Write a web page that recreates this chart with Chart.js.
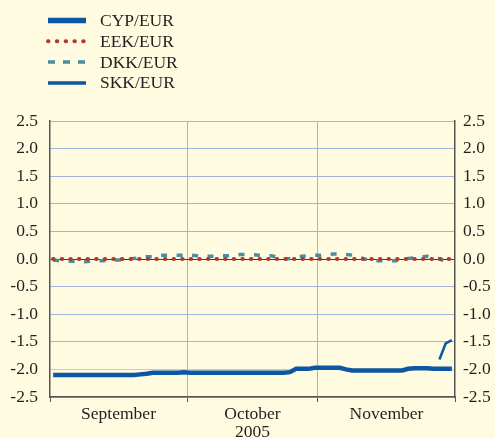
<!DOCTYPE html>
<html>
<head>
<meta charset="utf-8">
<title>ERM II exchange rates</title>
<script src="https://cdn.jsdelivr.net/npm/chart.js@4.4.1/dist/chart.umd.min.js"></script>
<style>
  body { margin: 0; background: #fefbe0; }
  #wrap { position: relative; width: 495px; height: 438px; }
</style>
</head>
<body>
<div id="wrap"><canvas id="chart_fx"></canvas></div>
<script>
  // business days, Sep - Nov 2005
  var sepDays = [1, 2, 5, 6, 7, 8, 9, 12, 13, 14, 15, 16, 19, 20, 21, 22, 23, 26, 27, 28, 29, 30];
  var octDays = [3, 4, 5, 6, 7, 10, 11, 12, 13, 14, 17, 18, 19, 20, 21, 24, 25, 26, 27, 28, 31];
  var novDays = [1, 2, 3, 4, 7, 8, 9, 10, 11, 14, 15, 16, 17, 18, 21, 22, 23, 24, 25, 28, 29, 30];
  var monthNames = ["September", "October", "November"];
  var yearLabel = "2005";

  // deviation from central rate (%), one row per month
  var cypEur = [-2.10, -2.10, -2.10, -2.10, -2.10, -2.10, -2.10, -2.10, -2.10, -2.10, -2.10, -2.10, -2.10, -2.10, -2.09, -2.08, -2.06, -2.06, -2.06, -2.06, -2.06, -2.05,
                -2.06, -2.06, -2.06, -2.06, -2.06, -2.06, -2.06, -2.06, -2.06, -2.06, -2.06, -2.06, -2.06, -2.06, -2.06, -2.06, -2.05, -1.99, -1.99, -1.99, -1.97,
                -1.97, -1.97, -1.97, -1.97, -2.00, -2.02, -2.02, -2.02, -2.02, -2.02, -2.02, -2.02, -2.02, -2.02, -1.99, -1.98, -1.98, -1.98, -1.99, -1.99, -1.99, -1.99];
  var eekEur = [0, 0, 0, 0, 0, 0, 0, 0, 0, 0, 0, 0, 0, 0, 0, 0, 0, 0, 0, 0, 0, 0,
                0, 0, 0, 0, 0, 0, 0, 0, 0, 0, 0, 0, 0, 0, 0, 0, 0, 0, 0, 0, 0,
                0, 0, 0, 0, 0, 0, 0, 0, 0, 0, 0, 0, 0, 0, 0, 0, 0, 0, 0, 0, 0, 0];
  var dkkEur = [-0.02, -0.03, -0.03, -0.04, -0.04, -0.05, -0.04, -0.03, -0.03, -0.02, -0.02, -0.02, 0.00, 0.01, 0.02, 0.04, 0.04, 0.06, 0.07, 0.07, 0.07, 0.07,
                0.07, 0.06, 0.05, 0.05, 0.05, 0.06, 0.06, 0.07, 0.08, 0.08, 0.08, 0.07, 0.06, 0.06, 0.03, 0.00, 0.01, 0.04, 0.05, 0.06, 0.07,
                0.07, 0.08, 0.09, 0.09, 0.08, 0.07, 0.03, 0.00, -0.02, -0.03, -0.03, -0.03, -0.03, -0.01, 0.01, 0.02, 0.04, 0.05, 0.03, 0.00, -0.04, -0.05];
  // SKK only from 28 November
  var skkDays = [28, 29, 30];
  var skkEur = [-1.82, -1.53, -1.47];

  var months = [sepDays, octDays, novDays];
  var days = [];
  months.forEach(function(list, m) {
      list.forEach(function(d) { days.push({ month: m, day: d }); });
  });

  function series(values) {
      return values.map(function(v, i) { return { x: i, y: v }; });
  }

  // month edges and month centres on the day index axis
  var edges = [-0.5];
  var centres = [];
  var start = 0;
  months.forEach(function(list) {
      centres.push(start + (list.length - 1) / 2);
      start += list.length;
      edges.push(start - 0.5);
  });

  var skkPoints = skkDays.map(function(d, i) {
      var idx = days.findIndex(function(e) { return e.month == 2 && e.day == d; });
      return { x: idx, y: skkEur[i] };
  });

  var textColor = "#231f20";
  var gridBlue = "#a3b3dd";
  var fontSize = 17.5;

  var legendBox = {
      id: "legendBox",
      afterDraw: function(chart) {
          var ctx = chart.ctx;
          ctx.save();
          chart.data.datasets.forEach(function(ds, i) {
              var y = 20.5 + i * 20.8;
              ctx.beginPath();
              ctx.lineWidth = ds.legendWidth || ds.borderWidth;
              ctx.strokeStyle = ds.borderColor;
              ctx.lineCap = ds.borderCapStyle || "butt";
              ctx.setLineDash(ds.legendDash || ds.borderDash || []);
              ctx.moveTo(48, y);
              ctx.lineTo(86, y);
              ctx.stroke();
              ctx.setLineDash([]);
              ctx.fillStyle = textColor;
              ctx.font = fontSize + "px 'Liberation Serif'";
              ctx.textBaseline = "middle";
              ctx.fillText(ds.label, 100, y + 1);
          });
          ctx.restore();
      }
  };

  Chart.defaults.font.family = "'Liberation Serif', 'Times New Roman', serif";
  Chart.defaults.font.size = fontSize;
  Chart.defaults.font.lineHeight = 1.05;
  Chart.defaults.color = textColor;

  function yGridColor(c) {
      if (!c.tick) return gridBlue;
      if (c.tick.value == 0) return "#3a3a3a";
      if (c.tick.value == -2) return "#c9c9c9";
      return gridBlue;
  }

  var chart_fx = new Chart("chart_fx", {
      type: "line",
      data: {
          datasets: [
              { label: "CYP/EUR", data: series(cypEur), borderColor: "#0c56a3", borderWidth: 4.5, legendWidth: 5.5 },
              { label: "EEK/EUR", data: series(eekEur), borderColor: "#b13a2f", borderWidth: 4, borderDash: [0.5, 8.1], borderCapStyle: "round", legendDash: [0.5, 8.3] },
              { label: "DKK/EUR", data: series(dkkEur), borderColor: "#4b8d9e", borderWidth: 3.5, borderDash: [6, 9.5], legendDash: [7, 8] },
              { label: "SKK/EUR", data: skkPoints, borderColor: "#0c56a3", borderWidth: 2.5, legendWidth: 3.5 }
          ]
      },
      options: {
          responsive: true,
          maintainAspectRatio: false,
          animation: false,
          layout: { padding: { top: 121, left: 0, right: 0, bottom: 0 } },
          elements: { point: { radius: 0 }, line: { tension: 0, fill: false } },
          plugins: { legend: { display: false }, tooltip: { enabled: false } },
          scales: {
              x: {
                  type: "linear",
                  min: edges[0],
                  max: edges[edges.length - 1],
                  afterBuildTicks: function(axis) {
                      axis.ticks = edges.concat(centres).sort(function(a, b) { return a - b; })
                          .map(function(v) { return { value: v }; });
                  },
                  afterFit: function(axis) { axis.height = 41; },
                  ticks: {
                      autoSkip: false,
                      maxRotation: 0,
                      padding: 3,
                      callback: function(v) {
                          var m = centres.indexOf(v);
                          if (m < 0) return "";
                          return m == 1 ? [monthNames[m], yearLabel] : monthNames[m];
                      }
                  },
                  grid: {
                      tickLength: 5,
                      color: function(c) {
                          if (!c.tick) return "transparent";
                          var k = edges.indexOf(c.tick.value);
                          return (k > 0 && k < edges.length - 1) ? gridBlue : "transparent";
                      },
                      tickColor: function(c) {
                          return (c.tick && edges.indexOf(c.tick.value) >= 0) ? "#555" : "transparent";
                      }
                  },
                  border: { color: "#555", width: 1.5 }
              },
              y: {
                  position: "left",
                  min: -2.5,
                  max: 2.5,
                  afterFit: function(axis) { axis.width = 50; },
                  ticks: {
                      stepSize: 0.5,
                      padding: 12,
                      callback: function(v) { return v.toFixed(1); }
                  },
                  grid: { drawTicks: false, color: yGridColor },
                  border: { color: "#555", width: 1.5 }
              },
              y2: {
                  position: "right",
                  min: -2.5,
                  max: 2.5,
                  afterFit: function(axis) { axis.width = 40; },
                  ticks: {
                      stepSize: 0.5,
                      padding: 8,
                      callback: function(v) { return v.toFixed(1); }
                  },
                  grid: { drawTicks: false, drawOnChartArea: false },
                  border: { color: "#555", width: 1.5 }
              }
          }
      },
      plugins: [legendBox]
  });
</script>
</body>
</html>
